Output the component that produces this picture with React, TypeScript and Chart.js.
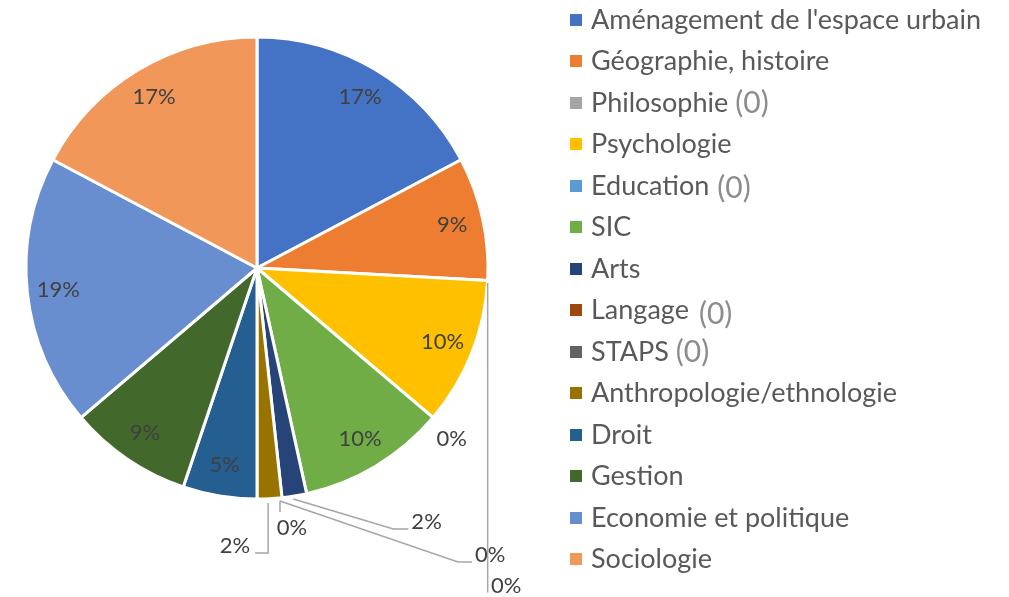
import React, { useEffect, useRef } from "react";
import { Chart, registerables } from "chart.js";

Chart.register(...registerables);

const categories = [
  "Aménagement de l'espace urbain",
  "Géographie, histoire",
  "Philosophie",
  "Psychologie",
  "Education",
  "SIC",
  "Arts",
  "Langage",
  "STAPS",
  "Anthropologie/ethnologie",
  "Droit",
  "Gestion",
  "Economie et politique",
  "Sociologie",
];
const counts = [10, 5, 0, 6, 0, 6, 1, 0, 0, 1, 3, 5, 11, 10];
const zeroNotes = ["", "", "(0)", "", "(0)", "", "", "(0)", "(0)", "", "", "", "", ""];
const colors = [
  "#4472C4", "#ED7D31", "#A5A5A5", "#FFC000", "#5B9BD5", "#70AD47", "#264478",
  "#9E480E", "#636363", "#997300", "#255E91", "#43682B", "#698ED0", "#F1975A",
];

// style: how each data label is placed relative to its slice's outer mid point
type Place =
  | { kind: "in" }
  | { kind: "out"; line: number[][]; at: number[]; align: CanvasTextAlign };
const placements: Place[] = [
  { kind: "in" },
  { kind: "in" },
  { kind: "out", line: [[0, 2.6], [0, 312]], at: [3.3, 305.6], align: "left" },
  { kind: "in" },
  { kind: "out", line: [], at: [18.6, 21.2], align: "center" },
  { kind: "in" },
  { kind: "out", line: [[-1, 3], [99, 33], [114, 33]], at: [117, 26], align: "left" },
  { kind: "out", line: [[-2, 3.4], [-2, 14.4]], at: [10, 30.4], align: "center" },
  { kind: "out", line: [[-2, 3.4], [176, 64.4], [190, 64.4]], at: [193, 57.4], align: "left" },
  { kind: "out", line: [[-1.4, 4.3], [-1.4, 54.3], [-14.4, 54.3]], at: [-19.4, 47.3], align: "right" },
  { kind: "in" },
  { kind: "in" },
  { kind: "in" },
  { kind: "in" },
];
const noteStyle = [
  null, null, { gap: 7, dy: 1.5 }, null, { gap: 8, dy: 3 }, null, null,
  { gap: 10, dy: 5 }, { gap: 7, dy: 1 }, null, null, null, null, null,
];

const FONT = "Lato, 'Open Sans', sans-serif";

const labelPlugin = {
  id: "sliceLabels",
  afterDatasetsDraw(chart: any) {
    const ctx = chart.ctx as CanvasRenderingContext2D;
    const meta = chart.getDatasetMeta(0);
    const values = chart.data.datasets[0].data as number[];
    const total = values.reduce((a, b) => a + b, 0);
    ctx.save();
    meta.data.forEach((arc: any, i: number) => {
      const { x, y, startAngle, endAngle, outerRadius } = arc.getProps(
        ["x", "y", "startAngle", "endAngle", "outerRadius"],
        true
      );
      const mid = (startAngle + endAngle) / 2;
      const txt = Math.round((values[i] / total) * 100) + "%";
      const p = placements[i];
      ctx.font = `22px ${FONT}`;
      ctx.fillStyle = "#404040";
      ctx.textBaseline = "middle";
      if (p.kind === "in") {
        const r = outerRadius * 0.865;
        ctx.textAlign = "center";
        ctx.fillText(txt, x + Math.cos(mid) * r, y + Math.sin(mid) * r);
      } else {
        const ax = x + Math.cos(mid) * outerRadius;
        const ay = y + Math.sin(mid) * outerRadius;
        if (p.line.length) {
          ctx.strokeStyle = "#A6A6A6";
          ctx.lineWidth = 1.5;
          ctx.beginPath();
          p.line.forEach((pt, k) => {
            if (k === 0) ctx.moveTo(ax + pt[0], ay + pt[1]);
            else ctx.lineTo(ax + pt[0], ay + pt[1]);
          });
          ctx.stroke();
        }
        ctx.textAlign = p.align;
        ctx.fillText(txt, ax + p.at[0], ay + p.at[1]);
      }
    });
    ctx.restore();
  },
};

const legendPlugin = {
  id: "customLegend",
  afterDraw(chart: any) {
    const ctx = chart.ctx as CanvasRenderingContext2D;
    const labels = chart.data.labels as string[];
    const bg = chart.data.datasets[0].backgroundColor as string[];
    ctx.save();
    ctx.textBaseline = "alphabetic";
    ctx.textAlign = "left";
    labels.forEach((lab, i) => {
      const rowTop = 13.5 + i * 41.5;
      ctx.fillStyle = bg[i];
      ctx.fillRect(570, Math.round(rowTop), 12, 12);
      const base = rowTop + 15;
      ctx.font = `27px ${FONT}`;
      ctx.fillStyle = "#595959";
      ctx.fillText(lab, 591, base);
      const note = zeroNotes[i];
      const st = noteStyle[i];
      if (note && st) {
        const w = ctx.measureText(lab).width;
        ctx.font = `30px ${FONT}`;
        ctx.fillStyle = "#8C8C8C";
        ctx.fillText(note, 591 + w + st.gap, base + st.dy);
      }
    });
    ctx.restore();
  },
};

export default function App() {
  const ref = useRef<HTMLCanvasElement | null>(null);
  useEffect(() => {
    if (!ref.current) return;
    const chart = new Chart(ref.current, {
      type: "pie",
      data: {
        labels: categories,
        datasets: [
          {
            data: counts,
            backgroundColor: colors,
            borderColor: "#FFFFFF",
            borderWidth: 3,
          },
        ],
      },
      options: {
        animation: false,
        responsive: false,
        radius: 231,
        layout: { padding: { left: 0, right: 495, top: 0, bottom: 61 } },
        plugins: {
          legend: { display: false },
          tooltip: { enabled: false },
        },
      } as any,
      plugins: [labelPlugin, legendPlugin],
    });
    return () => chart.destroy();
  }, []);
  return (
    <div style={{ position: "fixed", left: 0, top: 0, width: 1009, height: 597, background: "#fff" }}>
      <canvas ref={ref} width={1009} height={597} />
    </div>
  );
}
